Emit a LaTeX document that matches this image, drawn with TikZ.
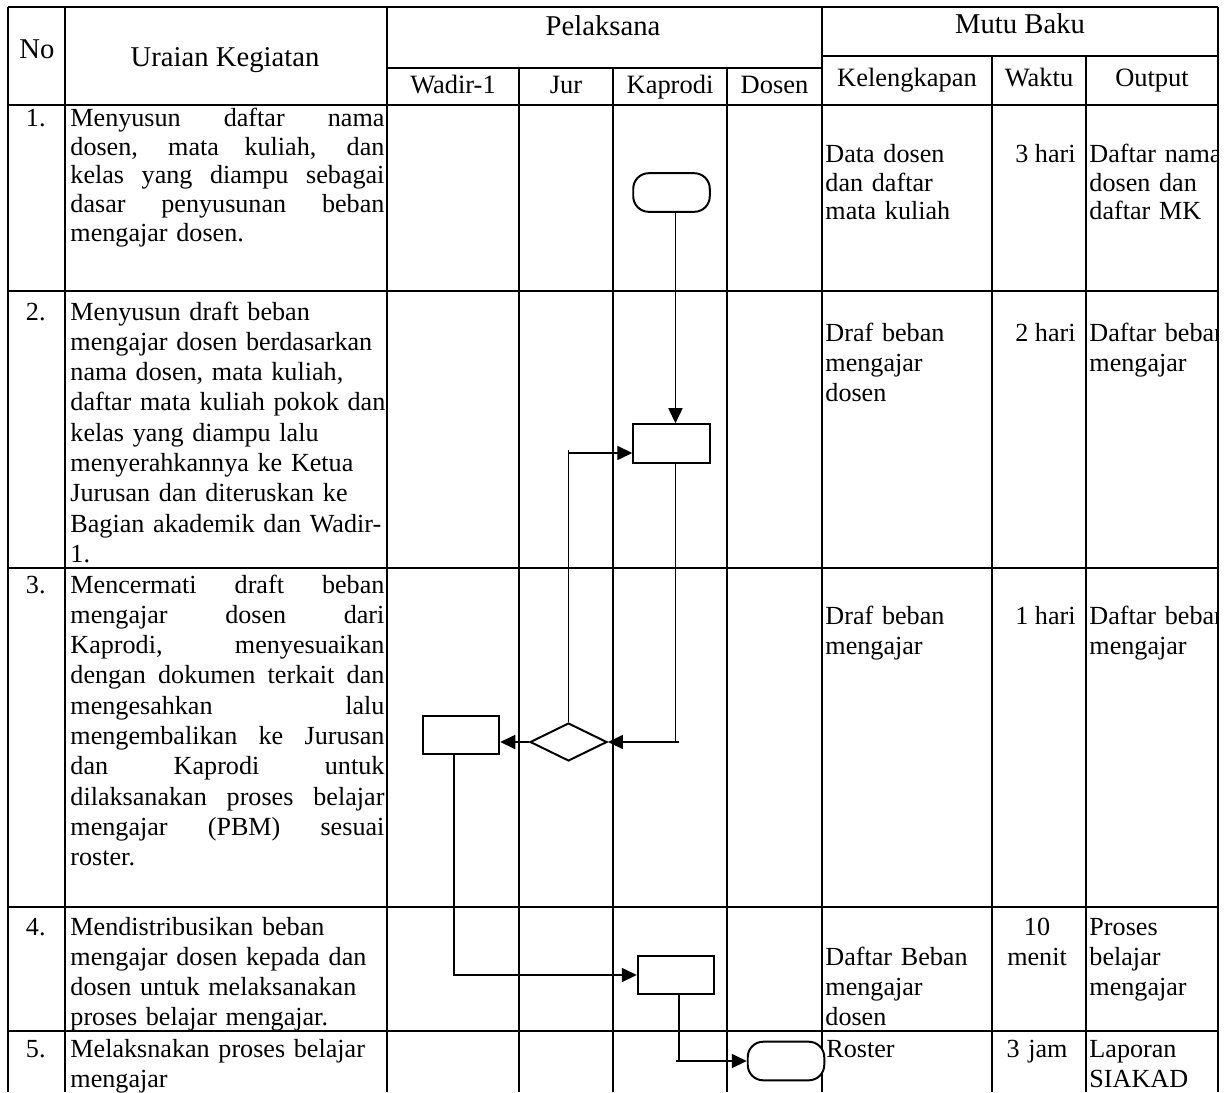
\documentclass[tikz,border=0pt]{standalone}
\usepackage{fontspec}
\setmainfont{Liberation Serif}
\usetikzlibrary{shapes.geometric,arrows.meta}
\newlength\jw \setlength\jw{142.4pt}
\newcommand\jl[1]{\leavevmode\hbox to\jw{\spaceskip=0.25em plus 1fil\relax #1}\\}
\begin{document}
\begin{tikzpicture}[x=0.4535pt, y=-0.4535pt,
  grid/.style={line width=0.5pt},
  bodyfont/.style={font=\fontsize{11.85pt}{13.74pt}\selectfont},
  tightfont/.style={font=\fontsize{11.85pt}{13.15pt}\selectfont},
  hdr/.style={inner sep=0pt, font=\fontsize{13pt}{15pt}\selectfont},
  subhdr/.style={inner sep=0pt, font=\fontsize{12pt}{14pt}\selectfont},
  cell/.style={bodyfont, inner sep=0pt, anchor=base west, align=left, text width=150pt},
  num/.style={bodyfont, inner sep=0pt, anchor=base east},
  wkt/.style={bodyfont, inner sep=0pt, anchor=base east},
  wktc/.style={bodyfont, inner sep=0pt, anchor=base, align=center, text width=40pt},
  flowbox/.style={draw, fill=white, line width=0.9pt, inner sep=0pt,
    minimum width=34.7pt, minimum height=17.5pt},
  term/.style={flowbox, rounded corners=7pt},
  decis/.style={draw, fill=white, diamond, line width=0.9pt, inner sep=0pt,
    minimum width=34.9pt, minimum height=17.2pt},
  conn/.style={line width=0.6pt},
  arr/.style={conn, -{Triangle[length=6.8pt,width=6.4pt]}}
]
\clip (0,0) rectangle (1232,1092);
\fill[white] (0,0) rectangle (1232,1092);

% table grid
\draw[grid] (8,7) -- (1218,7);
\draw[grid] (387,68) -- (822,68);
\draw[grid] (822,56) -- (1218,56);
\foreach \y in {105,291,568,907,1031} \draw[grid] (8,\y) -- (1218,\y);
\foreach \x in {8,65,387,822,1218} \draw[grid] (\x,7) -- (\x,1092);
\foreach \x in {519,613,727} \draw[grid] (\x,68) -- (\x,1092);
\foreach \x in {992,1086} \draw[grid] (\x,56) -- (\x,1092);

% headers
\node[hdr, anchor=base] (hNo) at (37,58) {No};
\node[hdr, anchor=base] (hUr) at (225,66) {Uraian Kegiatan};
\node[hdr, anchor=base] (hPel) at (603,35) {Pelaksana};
\node[hdr, anchor=base] (hMB) at (1020,33) {Mutu Baku};
\node[subhdr, anchor=base] (hW) at (453,93) {Wadir-1};
\node[subhdr, anchor=base] (hJ) at (566,93) {Jur};
\node[subhdr, anchor=base] (hK) at (670,93) {Kaprodi};
\node[subhdr, anchor=base] (hD) at (774.5,93) {Dosen};
\node[subhdr, anchor=base] (hKel) at (907,86) {Kelengkapan};
\node[subhdr, anchor=base] (hWak) at (1039,86) {Waktu};
\node[subhdr, anchor=base] (hOut) at (1152,86) {Output};

% numbers
\node[num] (n1) at (46,126) {1.};
\node[num] (n2) at (46,320) {2.};
\node[num] (n3) at (46,593) {3.};
\node[num] (n4) at (46,935) {4.};
\node[num] (n5) at (46,1057) {5.};

% activity descriptions
\node[cell, tightfont] (u1) at (70,126) {\jl{Menyusun daftar nama}\jl{dosen, mata kuliah, dan}\jl{kelas yang diampu sebagai}\jl{dasar penyusunan beban}mengajar dosen.};
\node[cell] (u2) at (70,320) {Menyusun draft beban\\mengajar dosen berdasarkan\\nama dosen, mata kuliah,\\daftar mata kuliah pokok dan\\kelas yang diampu lalu\\menyerahkannya ke Ketua\\Jurusan dan diteruskan ke\\Bagian akademik dan Wadir-\\1.};
\node[cell] (u3) at (70,593) {\jl{Mencermati draft beban}\jl{mengajar dosen dari}\jl{Kaprodi, menyesuaikan}\jl{dengan dokumen terkait dan}\jl{mengesahkan lalu}\jl{mengembalikan ke Jurusan}\jl{dan Kaprodi untuk}\jl{dilaksanakan proses belajar}\jl{mengajar (PBM) sesuai}roster.};
\node[cell] (u4) at (70,935) {Mendistribusikan beban\\mengajar dosen kepada dan\\dosen untuk melaksanakan\\proses belajar mengajar.};
\node[cell] (u5) at (70,1057) {Melaksnakan proses belajar\\mengajar};

% kelengkapan
\node[cell, tightfont, text width=75pt] (k1) at (825,162) {Data dosen\\dan daftar\\mata kuliah};
\node[cell, text width=75pt] (k2) at (825,341) {Draf beban\\mengajar\\dosen};
\node[cell, text width=75pt] (k3) at (825,624) {Draf beban\\mengajar};
\node[cell, text width=75pt] (k4) at (825,965) {Daftar Beban\\mengajar\\dosen};
\node[cell, text width=75pt] (k5) at (826,1057) {Roster};

% waktu
\node[wkt] (w1) at (1076,162) {3 hari};
\node[wkt] (w2) at (1076,341) {2 hari};
\node[wkt] (w3) at (1076,624) {1 hari};
\node[wktc] (w4) at (1037,935) {10\\menit};
\node[wktc] (w5) at (1037,1057) {3 jam};

% output (clipped by its cell)
\begin{scope}
\clip (1086,105) rectangle (1218,1092);
\node[cell, tightfont, text width=75pt] (o1) at (1089,162) {Daftar nama\\dosen dan\\daftar MK};
\node[cell, text width=75pt] (o2) at (1089,341) {Daftar beban\\mengajar};
\node[cell, text width=75pt] (o3) at (1089,624) {Daftar beban\\mengajar};
\node[cell, text width=75pt] (o4) at (1089,935) {Proses\\belajar\\mengajar};
\node[cell, text width=75pt] (o5) at (1089,1057) {Laporan\\SIAKAD};
\end{scope}

% flowchart shapes
\node[term] (T1) at (671.5,192.5) {};
\node[flowbox] (P1) at (671.5,443.5) {};
\node[decis] (D) at (568.5,742) {};
\node[flowbox] (P2) at (461,735) {};
\node[flowbox] (P3) at (676,975) {};
\node[term] (T2) at (786,1061) {};

% connectors
\coordinate (P1in) at ([yshift=-4.3pt]P1.west);
\draw[arr] ([xshift=1.8pt]T1.south) -- ([xshift=1.8pt]P1.north);
\draw[arr] (D.north) |- (P1in);
\draw[conn] (D.north |- P1in) -- ++(0,-3);
\draw[arr] ([xshift=1.8pt]P1.south) |- (D.east);
\draw[conn] ([xshift=1.8pt]P1.south |- D.east) -- ++(4,0);
\draw[arr] (D.west) -- (D.west -| P2.east);
\draw[arr] ([xshift=-3.2pt]P2.south) |- (P3.west);
\draw[arr] ([xshift=1.4pt]P3.south) |- (T2.west);
\draw[conn] ([xshift=1.4pt]P3.south |- T2.west) -- ++(-3,0);
\end{tikzpicture}
\end{document}
